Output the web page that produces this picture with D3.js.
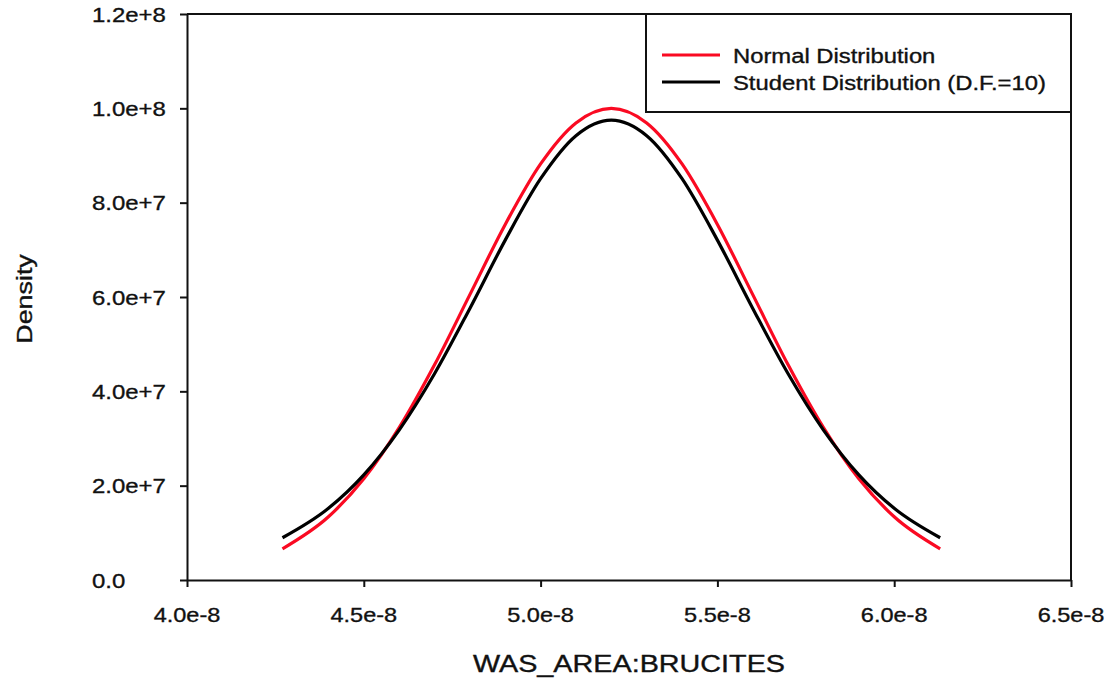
<!DOCTYPE html>
<html>
<head>
<meta charset="utf-8">
<script src="https://cdn.jsdelivr.net/npm/d3@7"></script>
<style>
  html, body { margin: 0; padding: 0; background: #fff; }
  svg text { font-family: "Liberation Sans", Arial, sans-serif; fill: #111; stroke: #111; stroke-width: 0.35px; }
</style>
</head>
<body>
<svg id="chart" width="1108" height="682"></svg>
<script>
// Sample positions along WAS_AREA:BRUCITES
const xValues = [4.27e-8, 4.4e-8, 4.5e-8, 4.6e-8, 4.7e-8, 4.8e-8, 4.9e-8, 5.0e-8, 5.1e-8, 5.2e-8,
                 5.3e-8, 5.4e-8, 5.5e-8, 5.6e-8, 5.7e-8, 5.8e-8, 5.9e-8, 6.0e-8, 6.13e-8];
// Normal distribution density
const normalDensity = [6.61e6, 1.340e7, 2.146e7, 3.229e7, 4.561e7, 6.050e7, 7.539e7, 8.821e7, 9.691e7, 1.0e8,
                       9.691e7, 8.821e7, 7.539e7, 6.050e7, 4.561e7, 3.229e7, 2.146e7, 1.340e7, 6.61e6];
// Student distribution density (10 degrees of freedom)
const studentDensity = [8.96e6, 1.520e7, 2.229e7, 3.178e7, 4.372e7, 5.758e7, 7.206e7, 8.508e7, 9.420e7, 9.75e7,
                        9.420e7, 8.508e7, 7.206e7, 5.758e7, 4.372e7, 3.178e7, 2.229e7, 1.520e7, 8.96e6];

const xTicks = [4.0e-8, 4.5e-8, 5.0e-8, 5.5e-8, 6.0e-8, 6.5e-8];
const xTickLabels = ["4.0e-8", "4.5e-8", "5.0e-8", "5.5e-8", "6.0e-8", "6.5e-8"];
const yTicks = [0, 2e7, 4e7, 6e7, 8e7, 1.0e8, 1.2e8];
const yTickLabels = ["0.0", "2.0e+7", "4.0e+7", "6.0e+7", "8.0e+7", "1.0e+8", "1.2e+8"];
const seriesNames = ["Normal Distribution", "Student Distribution (D.F.=10)"];
const seriesColors = ["#fa0a22", "#000000"];

const svg = d3.select("#chart");
const plotLeft = 187, plotRight = 1071, plotTop = 14, plotBottom = 580;

const x = d3.scaleLinear().domain([4.0e-8, 6.5e-8]).range([plotLeft, plotRight]);
const y = d3.scaleLinear().domain([0, 1.2e8]).range([plotBottom, plotTop]);

// widen text along its reading direction
function stretch(sel, k) {
  sel.each(function () {
    const w = this.getComputedTextLength();
    this.setAttribute("textLength", w * k);
    this.setAttribute("lengthAdjust", "spacingAndGlyphs");
  });
}

// frame: top and right edges
svg.append("line").attr("x1", plotLeft).attr("x2", plotRight).attr("y1", plotTop).attr("y2", plotTop)
  .attr("stroke", "#111").attr("stroke-width", 2);
svg.append("line").attr("x1", plotRight).attr("x2", plotRight).attr("y1", plotTop).attr("y2", plotBottom)
  .attr("stroke", "#111").attr("stroke-width", 2);

// axes (tick marks and domain lines; labels drawn below)
const xAxis = d3.axisBottom(x).tickValues(xTicks).tickFormat("").tickSize(7).tickSizeOuter(0);
const yAxis = d3.axisLeft(y).tickValues(yTicks).tickFormat("").tickSize(7).tickSizeOuter(0);

const gx = svg.append("g").attr("transform", `translate(0,${plotBottom})`).call(xAxis);
const gy = svg.append("g").attr("transform", `translate(${plotLeft},0)`).call(yAxis);
[gx, gy].forEach(g => {
  g.select(".domain").attr("stroke", "#111").attr("stroke-width", 2);
  g.selectAll(".tick line").attr("stroke", "#111").attr("stroke-width", 2);
  g.selectAll(".tick text").remove();
});

// tick labels (y labels share a common left edge)
svg.append("g").selectAll("text").data(xTicks).join("text")
  .attr("x", d => x(d)).attr("y", plotBottom + 42)
  .attr("text-anchor", "middle").style("font-size", "21px")
  .text((d, i) => xTickLabels[i]).call(stretch, 1.12);
svg.append("g").selectAll("text").data(yTicks).join("text")
  .attr("x", 92).attr("y", d => y(d)).attr("dy", "0.36em")
  .attr("text-anchor", "start").style("font-size", "21px")
  .text((d, i) => yTickLabels[i]).call(stretch, 1.14);

// density curves
const line = d3.line().curve(d3.curveMonotoneX);
const series = [normalDensity, studentDensity];
series.forEach((vals, s) => {
  svg.append("path")
    .attr("d", line(xValues.map((xv, i) => [x(xv), y(vals[i])])))
    .attr("fill", "none")
    .attr("stroke", seriesColors[s])
    .attr("stroke-width", 3.2)
    .attr("stroke-linejoin", "round");
});

// axis titles
svg.append("text").attr("x", (plotLeft + plotRight) / 2).attr("y", 672)
  .attr("text-anchor", "middle").style("font-size", "23px")
  .text("WAS_AREA:BRUCITES").call(stretch, 1.25);
svg.append("text").attr("transform", `translate(32,${(plotTop + plotBottom) / 2 + 2}) rotate(-90)`)
  .attr("text-anchor", "middle").style("font-size", "22px")
  .text("Density").call(stretch, 1.22);

// legend
const lg = svg.append("g");
lg.append("rect").attr("x", 646).attr("y", plotTop).attr("width", plotRight - 646).attr("height", 112 - plotTop)
  .attr("fill", "#fff").attr("stroke", "#111").attr("stroke-width", 2);
const legendRows = [55, 82];
seriesNames.forEach((name, i) => {
  lg.append("line").attr("x1", 662).attr("x2", 720)
    .attr("y1", legendRows[i]).attr("y2", legendRows[i])
    .attr("stroke", seriesColors[i]).attr("stroke-width", 3);
  lg.append("text").attr("x", 733).attr("y", legendRows[i] + 8)
    .style("font-size", "20px").text(name).call(stretch, 1.19);
});
</script>
</body>
</html>
